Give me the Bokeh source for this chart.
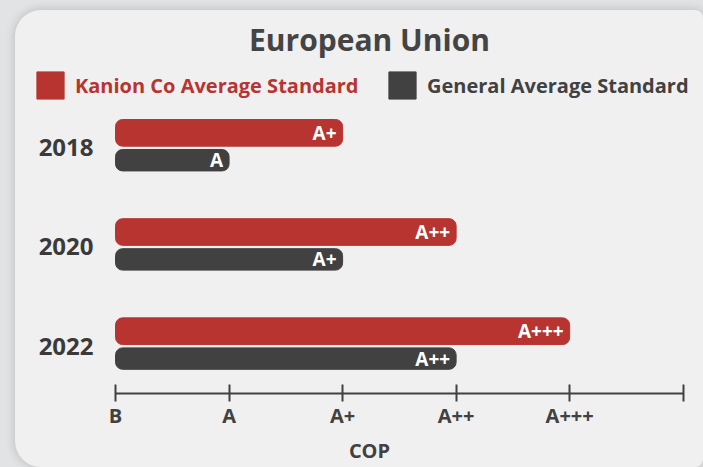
from bokeh.plotting import figure
from bokeh.layouts import column
from bokeh.models import ColumnDataSource, FixedTicker, Legend, LegendItem, Range1d
from bokeh.transform import dodge
from bokeh.core.properties import value
from bokeh.embed import file_html
from bokeh.resources import INLINE

# ---- data ----
years = ["2018", "2020", "2022"]
kanion = [2, 3, 4]          # index into ratings
general = [1, 2, 3]
ratings = ["B", "A", "A+", "A++", "A+++"]
tick_values = [0, 1, 2, 3, 4, 5]

RED = "#b73430"
DARK = "#414141"
CARD = "#f0f0f0"
OUTSIDE = "#e2e3e5"
FONT = "Open Sans"

n = len(years)
src = ColumnDataSource(dict(
    year=years,
    ypos=[n - 1 - i for i in range(n)],
    base=[0] * n,
    kanion=kanion,
    general=general,
    klabel=[ratings[v] for v in kanion],
    glabel=[ratings[v] for v in general],
))

p = figure(width=688, height=457, output_backend="svg", toolbar_location=None,
           x_range=Range1d(-0.705, 5.179), y_range=Range1d(-0.478, 2.950),
           min_border_left=20, min_border_right=0, min_border_top=43, min_border_bottom=74)
p.margin = (10, 0, 0, 15)
p.styles = {"border-radius": "26px 8px 8px 26px", "overflow": "hidden",
            "background-color": CARD,
            "box-shadow": "0 0 10px 1px rgba(0,0,0,0.16)"}

p.border_fill_color = None
p.background_fill_color = None
p.outline_line_color = None
p.grid.grid_line_color = None

KOFF, KH = 0.150, 0.269
GOFF, GH = -0.126, 0.216

rk = p.hbar(y=dodge("ypos", KOFF), left="base", right="kanion", height=KH,
            source=src, fill_color=RED, line_color=RED, border_radius=7)
rg = p.hbar(y=dodge("ypos", GOFF), left="base", right="general", height=GH,
            source=src, fill_color=DARK, line_color=DARK, border_radius=7)

p.text(x="kanion", y=dodge("ypos", KOFF), text="klabel", source=src,
       text_align="right", text_baseline="middle", x_offset=-6,
       text_color="white", text_font=value(FONT), text_font_style="bold", text_font_size="19px")
p.text(x="general", y=dodge("ypos", GOFF), text="glabel", source=src,
       text_align="right", text_baseline="middle", x_offset=-6,
       text_color="white", text_font=value(FONT), text_font_style="bold", text_font_size="19px")

# year labels (category axis drawn as text beside the bars)
p.text(x="base", y="ypos", text="year", source=src,
       text_align="right", text_baseline="middle", x_offset=-22,
       text_color="#3a3a3a", text_font=value(FONT), text_font_style="bold", text_font_size="24px")
p.yaxis.visible = False

# title
p.title.text = "European Union"
p.title.text_font = FONT
p.title.text_font_size = "30px"
p.title.text_font_style = "bold"
p.title.text_color = "#444444"
p.title.align = "center"
p.title.standoff = -12

# x axis
xa = p.xaxis[0]
xa.ticker = FixedTicker(ticks=tick_values)
xa.bounds = (tick_values[0], tick_values[-1])
xa.major_label_overrides = {i: (ratings[i] if i < len(ratings) else "") for i in tick_values}
xa.axis_label = "COP"
xa.axis_line_color = DARK
xa.axis_line_width = 2
xa.major_tick_line_color = DARK
xa.major_tick_line_width = 2
xa.major_tick_in = 9
xa.major_tick_out = 8
xa.minor_tick_line_color = None
xa.major_label_text_font = FONT
xa.major_label_text_font_style = "bold"
xa.major_label_text_font_size = "20px"
xa.major_label_text_color = DARK
xa.major_label_standoff = 0
xa.axis_label_text_font = FONT
xa.axis_label_text_font_style = "bold"
xa.axis_label_text_font_size = "20px"
xa.axis_label_text_color = DARK
xa.axis_label_standoff = 5

# legends (two, each with its own text colour)
def make_legend(label, renderer, color, loc):
    lg = Legend(items=[LegendItem(label=label, renderers=[renderer])], location=loc,
                orientation="horizontal", padding=0, margin=0, spacing=0,
                border_line_color=None, background_fill_alpha=0,
                glyph_width=34, glyph_height=34, label_standoff=8,
                label_text_font=FONT, label_text_font_style="bold", label_text_font_size="20px",
                label_text_color=color, label_height=34)
    p.add_layout(lg)
    return lg

make_legend("Kanion Co Average Standard", rk, RED, (-2, 291))
make_legend("General Average Standard", rg, DARK, (350, 291))

root = column(p, styles={"background-color": OUTSIDE})

open("out.html", "w").write(file_html(root, INLINE))
